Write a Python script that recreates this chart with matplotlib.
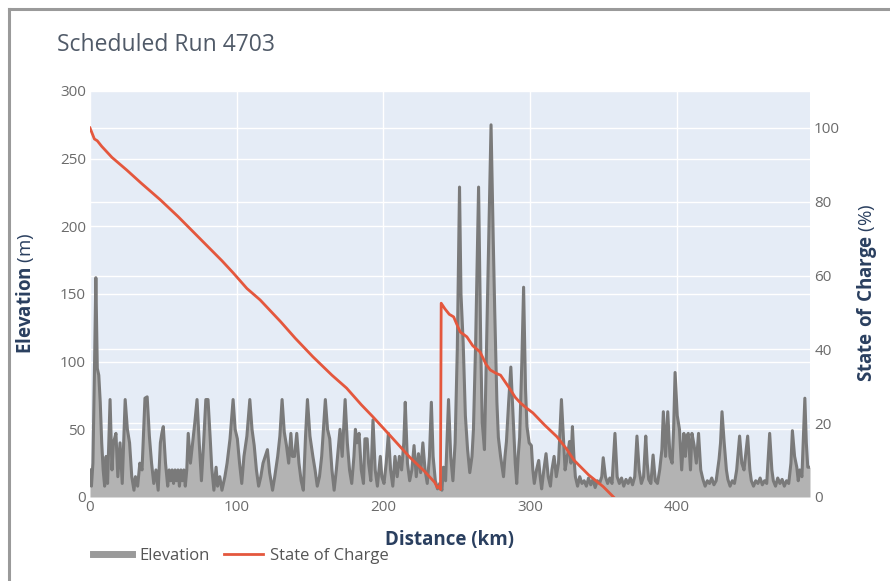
import matplotlib.pyplot as plt
from matplotlib.lines import Line2D

plt.rcParams['font.family'] = ['Open Sans', 'DejaVu Sans']
plt.rcParams['mathtext.fontset'] = 'custom'
plt.rcParams['mathtext.rm'] = 'Open Sans'
plt.rcParams['mathtext.bf'] = 'Open Sans:bold'

# elevation profile along the route
dist_km = [0, 1, 2, 3, 4, 5, 6, 7, 8, 9, 10, 11, 12, 13.7, 15, 16, 17.7, 19, 20.5, 22,
           24, 25.5, 27, 28.5, 30, 31, 32.5, 34, 35.5, 37.5, 39, 40.5, 42, 43.5, 45, 46.5,
           48, 49, 50, 51.5, 53, 54, 55, 56, 57, 58, 59, 60, 61, 62, 63, 64, 65, 66,
           67, 68.5, 70, 71.5, 73, 74.5, 76, 77.5, 79, 80.5, 82, 83, 84.5, 86, 87, 88.5,
           90, 92, 93.5, 95.5, 97.6, 99, 100.5, 102, 103.5, 105, 107, 109, 110.5, 112,
           113.5, 115, 116.5, 118, 121, 122.5, 124.5, 126, 128, 129.5, 131, 132.5, 134,
           135.5, 137, 138, 139.5, 141, 142.5, 144, 145.5, 147, 148.3, 150, 152, 153.5,
           155, 156.5, 158, 160.5, 162, 163.5, 165, 166.5, 168, 170.5, 172, 174, 175.5,
           177, 178.5, 180, 181, 182, 183.5, 185, 186.5, 187.5, 189, 190, 191.5, 193,
           194.5, 196, 198, 199, 200.5, 202, 203.5, 205, 206.5, 208, 209.5, 211, 212.5,
           214, 215, 216.5, 218, 219.5, 221, 222.5, 224, 225.5, 227, 228.5, 230, 231.5,
           232.8, 234, 235.5, 237, 238.5, 240, 241, 242.5, 244.5, 246, 247.5, 249, 250.5,
           252, 253, 254.5, 256, 257.5, 259, 260.5, 261.5, 263, 265, 266.5, 267.5, 269,
           270.5, 272, 273.5, 275, 276, 277.5, 278.5, 280, 282, 283, 284, 285.5, 287,
           288.5, 290, 291, 292, 293, 294.5, 295.7, 297, 298, 299.5, 301, 302, 303, 304.5,
           306, 307, 308, 309.5, 311, 312.5, 314, 315, 316.5, 318, 319.5, 321.5, 323, 324,
           325.5, 327, 328, 329, 330, 331, 332.5, 334, 335.5, 337, 338.5, 340, 341.5, 343,
           344.5, 346, 347.5, 349, 350, 351.5, 353, 354.5, 356, 358, 359.5, 361, 362.5,
           364, 365.5, 367, 368.5, 370, 371.5, 373, 374.5, 376, 377.5, 379, 380, 381,
           382.5, 384, 385.5, 387, 388.5, 390, 391, 392.5, 394, 395.5, 397, 398, 399,
           400.5, 402, 403.5, 405, 406, 407, 408, 409.5, 410.5, 412, 413.5, 415, 416.5,
           418, 419.5, 421, 422.5, 424, 425.5, 427, 429, 430, 431, 432.5, 434, 435, 436.5,
           438, 439.5, 441, 443, 444.5, 446, 447, 448.5, 450, 451, 452.5, 454, 455.5, 457,
           458.5, 460, 461.5, 463.5, 465, 466, 467.5, 469, 470.5, 472, 473.5, 475, 476.5,
           478, 479, 480.5, 482, 483, 484, 485.5, 487.5, 488.5, 489.5, 491]
elev_m = [20, 8, 25, 90, 162, 95, 90, 70, 40, 20, 8, 30, 10, 72, 20, 40, 47, 15, 40, 10,
          72, 50, 40, 15, 5, 15, 8, 25, 20, 73, 74, 45, 25, 10, 20, 5,
          40, 47, 52, 25, 8, 20, 12, 20, 10, 20, 12, 20, 8, 20, 12, 20, 8, 20,
          47, 25, 40, 55, 72, 40, 12, 40, 72, 72, 43, 22, 5, 22, 8, 15,
          5, 15, 25, 43, 72, 50, 43, 25, 10, 30, 45, 72, 50, 38,
          20, 8, 15, 25, 35, 18, 5, 15, 30, 45, 72, 48, 38,
          25, 47, 30, 30, 47, 25, 12, 5, 45, 72, 45, 30, 20,
          8, 15, 30, 72, 50, 43, 20, 5, 20, 50, 30, 72, 40,
          20, 10, 30, 50, 40, 47, 20, 10, 43, 43, 25, 12, 57,
          20, 8, 30, 15, 10, 25, 47, 20, 8, 30, 15, 30, 20,
          40, 70, 25, 12, 20, 38, 15, 32, 18, 40, 20, 10, 30,
          70, 30, 12, 6, 10, 5, 22, 12, 72, 30, 12, 40, 110,
          229, 150, 114, 60, 35, 18, 30, 50, 114, 229, 110, 55, 35,
          114, 190, 275, 190, 138, 70, 44, 30, 15, 30, 41, 70, 96,
          60, 25, 10, 30, 44, 100, 155, 80, 52, 40, 38, 20, 10, 20,
          27, 15, 6, 20, 32, 15, 8, 20, 30, 15, 25, 72, 40, 20,
          30, 41, 25, 52, 30, 15, 8, 15, 10, 12, 8, 14, 9, 13,
          7, 12, 10, 15, 29, 15, 10, 14, 10, 47, 15, 10, 14,
          8, 13, 10, 14, 9, 15, 45, 20, 10, 15, 45, 25, 13,
          10, 31, 12, 10, 20, 35, 63, 30, 63, 30, 25, 50, 92,
          60, 50, 20, 47, 30, 45, 47, 20, 47, 38, 25, 47, 20,
          13, 8, 12, 10, 14, 9, 12, 28, 40, 63, 40, 20, 13, 8,
          12, 10, 20, 45, 25, 20, 30, 45, 20, 12, 8, 12, 10, 14,
          9, 12, 10, 47, 20, 12, 8, 14, 10, 13, 8, 12, 10,
          25, 49, 30, 22, 12, 20, 15, 73, 40, 22, 22]

# battery state of charge, with the recharge just before km 240
soc_km = [0, 1.5, 3, 5, 8, 15, 25, 35, 48, 60, 75, 90, 97.7, 107, 116, 130, 140, 152,
          165, 175, 185, 193, 205, 218, 228, 235, 237, 238.5, 239, 239.5, 242, 245, 248,
          251, 252.5, 257, 261, 266, 270, 273, 277, 280, 286, 290, 293.5, 298, 302, 310,
          318.5, 325, 330, 340, 350, 357]
soc_pct = [100, 98.5, 97, 96.5, 95, 92, 88.6, 85, 80.5, 76, 70, 64, 60.7, 56.5, 53.4,
           47.5, 43, 38, 33, 29.5, 25, 21.7, 16.5, 10.8, 7, 4, 2.5, 3, 2, 52.5, 51, 49.5,
           48.8, 46, 44.7, 43.4, 41, 39.3, 36, 34.4, 33.5, 33, 29.5, 27, 25.5, 24, 22.8,
           19.5, 16.3, 13, 10, 6, 2.8, 0]

x_ticks = [0, 100, 200, 300, 400]
elev_ticks = [0, 50, 100, 150, 200, 250, 300]
soc_ticks = [0, 20, 40, 60, 80, 100]

bg = '#E5ECF6'
tick_col = '#6b6b6b'
label_col = '#2a3f5f'
elev_col = '#7a7a7a'
soc_col = '#e4573d'

fig = plt.figure(figsize=(8.9, 5.81), dpi=100)
ax = fig.add_axes([0.1011, 0.1446, 0.809, 0.6988])
ax2 = ax.twinx()

ax.set_facecolor(bg)
ax.set_xlim(0, 491)
ax.set_ylim(0, 300)
ax2.set_ylim(0, 110)

# white grid for both y axes, kept under the traces
for v in x_ticks:
    ax.axvline(v, color='white', lw=1, zorder=0)
for v in elev_ticks:
    ax.axhline(v, color='white', lw=1, zorder=0)
for v in soc_ticks:
    ax.axhline(v * 300 / 110, color='white', lw=1, zorder=0)

ax.fill_between(dist_km, elev_m, 0, color='#b3b3b3', lw=0, zorder=1)
ax.plot(dist_km, elev_m, color=elev_col, lw=2.2, zorder=2)
ax2.plot(soc_km, soc_pct, color=soc_col, lw=2, zorder=3)

for a in (ax, ax2):
    for s in a.spines.values():
        s.set_visible(False)
    a.tick_params(length=0, labelsize=11, labelcolor=tick_col)

ax.set_xticks(x_ticks)
ax.set_yticks(elev_ticks)
ax2.set_yticks(soc_ticks)
ax.tick_params(axis='x', pad=2)
ax.tick_params(axis='y', pad=3)
ax2.tick_params(axis='y', pad=3)

# title and axis titles
fig.text(0.064, 0.9225, 'Scheduled Run 4703', fontsize=16.5, color='#505a68',
         ha='left', va='center')
fig.text(0.5045, 0.0706, 'Distance (km)', fontsize=13.5, fontweight='bold',
         color=label_col, ha='center', va='center')
fig.text(0.028, 0.496, r'$\mathbf{Elevation}$ (m)', fontsize=13.5,
         color=label_col, rotation=90, ha='center', va='center')
fig.text(0.974, 0.4966, r'$\mathbf{State\ of\ Charge}$ (%)', fontsize=13.5,
         color=label_col, rotation=90, ha='center', va='center')

handles = [Line2D([], [], color='#9a9a9a', lw=5),
           Line2D([], [], color=soc_col, lw=2)]
fig.legend(handles, ['Elevation', 'State of Charge'], loc='center left',
           bbox_to_anchor=(0.1045, 0.043), ncol=2, frameon=False, fontsize=12,
           handlelength=2.35, handletextpad=0.42, columnspacing=0.84,
           borderpad=0, borderaxespad=0, labelcolor='#555555')

# frame around the chart card
fig.add_artist(Line2D([0.01, 0.01], [0, 0.985], color='#9a9a9a', lw=2.2))
fig.add_artist(Line2D([0.01, 1], [0.985, 0.985], color='#9a9a9a', lw=2.2))

fig.savefig('out.png', dpi=100)
